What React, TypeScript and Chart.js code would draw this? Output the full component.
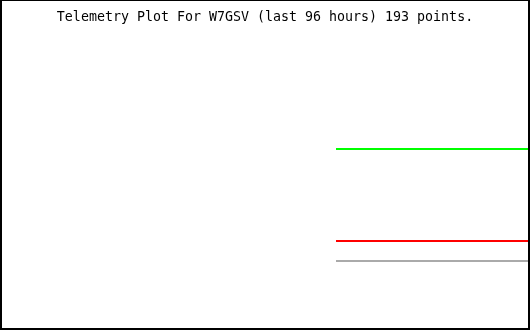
import React, { useEffect, useRef } from "react";
import { Chart, registerables } from "chart.js";

Chart.register(...registerables);

const TITLE = "Telemetry Plot For W7GSV (last 96 hours) 193 points.";
const hours = [60.86, 72, 84, 96];
const seriesGreen = [60.33, 60.33, 60.33, 60.33];
const seriesRed = [29.67, 29.67, 29.67, 29.67];
const seriesGray = [23, 23, 23, 23];

const framePlugin = {
  id: "frame",
  afterDraw(chart: any) {
    const ctx = chart.ctx;
    const w = chart.width;
    const h = chart.height;
    ctx.save();
    ctx.fillStyle = "#000000";
    ctx.fillRect(0, 0, w, 1);
    ctx.fillRect(0, 0, 2, h);
    ctx.fillRect(w - 2, 0, 2, h);
    ctx.fillRect(0, h - 2, w, 2);
    ctx.restore();
  },
};

const bgPlugin = {
  id: "bg",
  beforeDraw(chart: any) {
    const ctx = chart.ctx;
    ctx.save();
    ctx.fillStyle = "#ffffff";
    ctx.fillRect(0, 0, chart.width, chart.height);
    ctx.restore();
  },
};

export default function App() {
  const ref = useRef<HTMLCanvasElement | null>(null);
  useEffect(() => {
    if (!ref.current) return;
    const mk = (vals: number[], color: string) => ({
      data: hours.map((x, i) => ({ x, y: vals[i] })),
      borderColor: color,
      backgroundColor: color,
      borderWidth: 2,
      pointRadius: 0,
      tension: 0,
      fill: false,
    });
    const chart = new Chart(ref.current, {
      type: "line",
      data: {
        datasets: [
          mk(seriesGreen, "#00ff00"),
          mk(seriesRed, "#ff0000"),
          mk(seriesGray, "#aaaaaa"),
        ],
      },
      options: {
        animation: false,
        responsive: false,
        devicePixelRatio: 1,
        layout: { padding: 0 },
        scales: {
          x: { type: "linear", min: 0, max: 96, display: false },
          y: { type: "linear", min: 0, max: 100, display: false },
        },
        plugins: {
          legend: { display: false },
          tooltip: { enabled: false },
          title: {
            display: true,
            text: TITLE,
            color: "#000000",
            font: { family: "'DejaVu Sans Mono', monospace", size: 13.3, weight: "normal", lineHeight: 1.2 },
            padding: { top: 10, bottom: 4.04 },
          },
        },
      },
      plugins: [bgPlugin, framePlugin],
    });
    return () => chart.destroy();
  }, []);
  return (
    <div style={{ position: "fixed", left: 0, top: 0, width: 530, height: 330 }}>
      <canvas ref={ref} width={530} height={330} style={{ width: 530, height: 330, display: "block" }} />
    </div>
  );
}
